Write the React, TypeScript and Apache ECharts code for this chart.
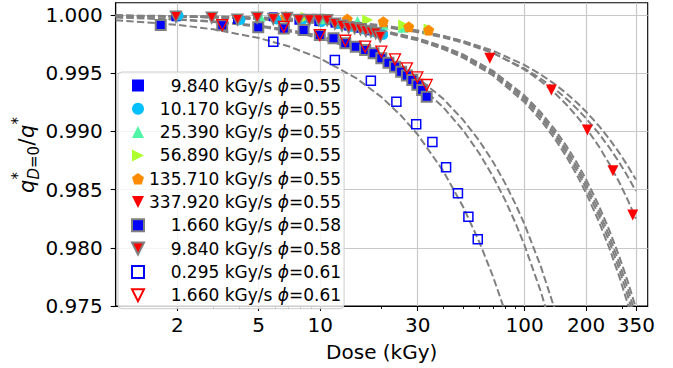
import React, { useEffect, useRef } from 'react';
import * as echarts from 'echarts';

const FONT = 'DejaVu Sans';

// ---- axis ticks ----
const X_MIN = 1;
const X_MAX = 400;
const X_MAJOR_TICKS = [2, 5, 10, 30, 100, 200, 350];
const X_MINOR_TICKS = [3, 4, 6, 7, 8, 9, 20, 40, 50, 60, 70, 80, 90, 300];
const Y_TICKS = [0.975, 0.98, 0.985, 0.99, 0.995, 1.0];
const Y_MIN = 0.975;
const Y_MAX = 1.00106;

// ---- measured series ----
const DOSE_A = [1.97, 3.94, 5.9, 7.87, 9.84, 11.81, 13.78, 15.74, 17.71, 19.68];
const VAL_A = [0.99985, 0.99962, 0.99985, 0.99955, 0.99943, 0.9993, 0.99905, 0.99886, 0.99865, 0.99843];

const DOSE_B = [2.03, 4.07, 6.1, 8.14, 10.17, 12.2, 14.24, 16.27, 18.31, 20.34];
const VAL_B = [0.99995, 0.99957, 0.99962, 0.9995, 0.9994, 0.99922, 0.999, 0.99877, 0.99855, 0.9983];

const DOSE_C = [5.08, 10.16, 15.23, 20.31, 25.39];
const VAL_C = [0.9999, 0.99968, 0.99945, 0.9992, 0.99894];

const DOSE_D = [8.53, 17.07, 25.6, 34.13];
const VAL_D = [0.9998, 0.99957, 0.99914, 0.9988];

const DOSE_E = [6.79, 13.57, 20.36, 27.14, 33.93];
const VAL_E = [0.99985, 0.99966, 0.99943, 0.999, 0.99871];

const DOSE_F = [67.58, 135.17, 202.75, 270.34, 337.92];
const VAL_F = [0.99628, 0.99356, 0.99012, 0.98662, 0.98282];

const DOSE_G = [1.66, 3.32, 4.98, 6.64, 8.3, 9.96, 11.62, 13.28, 14.94, 16.6, 18.26, 19.92, 21.58, 23.24, 24.9, 26.56, 28.22, 29.88, 31.54, 33.2];
const VAL_G = [0.99914, 0.99912, 0.99895, 0.99885, 0.99871, 0.99828, 0.998, 0.99757, 0.99728, 0.997, 0.99671, 0.99628, 0.9959, 0.99555, 0.99513, 0.9948, 0.99442, 0.994, 0.99355, 0.99298];

const DOSE_H = [0.98, 1.97, 2.95, 3.94, 4.92, 5.9, 6.89, 7.87, 8.86, 9.84, 10.82, 11.81, 12.79, 13.78, 14.76, 15.74, 16.73, 17.71, 18.7, 19.68];
const VAL_H = [0.99995, 0.99985, 0.99977, 0.9996, 0.99977, 0.99966, 0.99975, 0.99957, 0.99957, 0.99957, 0.99955, 0.99925, 0.99908, 0.99891, 0.99886, 0.99878, 0.99863, 0.99855, 0.99843, 0.99814];

const DOSE_I = [5.9, 11.8, 17.7, 23.6, 29.5, 35.4, 41.3, 47.2, 53.1, 59.0];
const VAL_I = [0.99771, 0.99613, 0.99436, 0.99255, 0.99061, 0.98909, 0.98692, 0.98468, 0.98267, 0.98073];

const DOSE_J = [3.32, 6.64, 9.96, 13.28, 16.6, 19.92, 23.24, 26.56, 29.88, 33.2];
const VAL_J = [0.99914, 0.99899, 0.99828, 0.99779, 0.99728, 0.99685, 0.99619, 0.99542, 0.99465, 0.99399];

// ---- fitted (dashed) curves ----
const FIT_DOSE_S = [1, 2, 3, 5, 7, 10, 15, 20, 25, 30, 40, 50, 60, 70, 80];
const FIT_S = [0.99956, 0.99916, 0.99877, 0.99803, 0.99732, 0.99627, 0.99458, 0.99293, 0.99132, 0.98973, 0.9866, 0.98353, 0.98052, 0.97755, 0.97459];

const FIT_DOSE_M = [1, 2, 3, 5, 7, 10, 15, 20, 30, 40, 50, 60, 70, 80, 90, 100, 120, 140];
const FIT_M1 = [0.9998, 0.9996, 0.99941, 0.99901, 0.99861, 0.99802, 0.99703, 0.99604, 0.99406, 0.99208, 0.9901, 0.98812, 0.98614, 0.98416, 0.98218, 0.9802, 0.97624, 0.97228];
const FIT_M2 = [0.99982, 0.99964, 0.99946, 0.9991, 0.99874, 0.9982, 0.9973, 0.9964, 0.9946, 0.9928, 0.991, 0.9892, 0.9874, 0.9856, 0.9838, 0.982, 0.9784, 0.9748];

const FIT_DOSE = [1, 2, 3, 5, 7, 10, 15, 20, 30, 40, 50, 70, 100, 120, 140, 160, 180, 200, 230, 260, 290, 320, 350];
const FIT_L1 = [0.99993, 0.99987, 0.9998, 0.99966, 0.99952, 0.9993, 0.99894, 0.99857, 0.99783, 0.99708, 0.99633, 0.99481, 0.9925, 0.99096, 0.9894, 0.98784, 0.98627, 0.98469, 0.98232, 0.97994, 0.97756, 0.97516, 0.97276];
const FIT_L2 = [0.99994, 0.99987, 0.9998, 0.99967, 0.99953, 0.99932, 0.99897, 0.99861, 0.99789, 0.99716, 0.99643, 0.99495, 0.99271, 0.99121, 0.98969, 0.98817, 0.98665, 0.98512, 0.98282, 0.9805, 0.97818, 0.97585, 0.97352];
const FIT_L3 = [0.99994, 0.99987, 0.99981, 0.99968, 0.99954, 0.99934, 0.99899, 0.99865, 0.99794, 0.99723, 0.99652, 0.99508, 0.99289, 0.99142, 0.98994, 0.98846, 0.98697, 0.98548, 0.98323, 0.98098, 0.97871, 0.97644, 0.97416];
const FIT_L4 = [0.99994, 0.99988, 0.99981, 0.99968, 0.99955, 0.99935, 0.99902, 0.99868, 0.998, 0.99731, 0.99661, 0.99521, 0.99308, 0.99165, 0.99021, 0.98877, 0.98732, 0.98587, 0.98368, 0.98148, 0.97928, 0.97707, 0.97485];
const FIT_U1 = [0.99995, 0.9999, 0.99985, 0.99975, 0.99966, 0.99952, 0.99929, 0.99907, 0.99863, 0.9982, 0.99777, 0.99694, 0.9957, 0.99489, 0.99408, 0.99328, 0.99248, 0.99169, 0.99051, 0.98934, 0.98818, 0.98702, 0.98587];
const FIT_U2 = [0.99994, 0.99989, 0.99984, 0.99973, 0.99963, 0.99948, 0.99924, 0.999, 0.99853, 0.99807, 0.99762, 0.99672, 0.9954, 0.99453, 0.99367, 0.99281, 0.99196, 0.99111, 0.98985, 0.9886, 0.98735, 0.98611, 0.98488];
const FIT_T = [0.99996, 0.99992, 0.99988, 0.9998, 0.99971, 0.99958, 0.99936, 0.99913, 0.99867, 0.99821, 0.99773, 0.99677, 0.99531, 0.99432, 0.99332, 0.99231, 0.9913, 0.99029, 0.98875, 0.9872, 0.98565, 0.98409, 0.98251];

// ---- legend ----
const RATES = ['9.840', '10.170', '25.390', '56.890', '135.710', '337.920', '1.660', '9.840', '0.295', '1.660'];
const PHIS = ['0.55', '0.55', '0.55', '0.55', '0.55', '0.55', '0.58', '0.58', '0.61', '0.61'];
const NAMES = RATES.map((r, i) => `${r} kGy/s \u03d5=${PHIS[i]}`);

const PENTAGON = 'path://M0,-1L0.951,-0.309L0.588,0.809L-0.588,0.809L-0.951,-0.309Z';
const TRI_DOWN = 'path://M-1,-1L1,-1L0,1Z';
const TRI_RIGHT = 'path://M-1,-1L1,0L-1,1Z';
const GRAY = '#808080';

const pairs = (xs: number[], ys: number[]) => xs.map((x, i) => [x, ys[i]]);

export default function App() {
  const ref = useRef<HTMLDivElement>(null);
  useEffect(() => {
    const chart = echarts.init(ref.current!, null, { renderer: 'svg' });
    const lx = (v: number) => Math.log10(v);

    const markerDefs: any[] = [
      { d: DOSE_A, v: VAL_A, symbol: 'rect', size: 9, style: { color: '#0000ff' } },
      { d: DOSE_B, v: VAL_B, symbol: 'circle', size: 10, style: { color: '#00bfff' } },
      { d: DOSE_C, v: VAL_C, symbol: 'triangle', size: 11, style: { color: '#50f5a5' } },
      { d: DOSE_D, v: VAL_D, symbol: TRI_RIGHT, size: 11, style: { color: '#adff2f' } },
      { d: DOSE_E, v: VAL_E, symbol: PENTAGON, size: 11, style: { color: '#ff8c00' } },
      { d: DOSE_F, v: VAL_F, symbol: TRI_DOWN, size: 11, style: { color: '#ff0000' } },
      { d: DOSE_G, v: VAL_G, symbol: 'rect', size: 10, style: { color: '#0000ff', borderColor: GRAY, borderWidth: 2 } },
      { d: DOSE_H, v: VAL_H, symbol: TRI_DOWN, size: 11, style: { color: '#ff0000', borderColor: GRAY, borderWidth: 1.5 } },
      { d: DOSE_I, v: VAL_I, symbol: 'rect', size: 9, style: { color: 'rgba(255,255,255,0)', borderColor: '#0000ff', borderWidth: 1.5 } },
      { d: DOSE_J, v: VAL_J, symbol: TRI_DOWN, size: 11, style: { color: 'rgba(255,255,255,0)', borderColor: '#ff0000', borderWidth: 1.3 } },
    ];

    const fits: [number[], number[]][] = [
      [FIT_DOSE_S, FIT_S], [FIT_DOSE_M, FIT_M1], [FIT_DOSE_M, FIT_M2],
      [FIT_DOSE, FIT_L1], [FIT_DOSE, FIT_L2], [FIT_DOSE, FIT_L3], [FIT_DOSE, FIT_L4],
      [FIT_DOSE, FIT_U1], [FIT_DOSE, FIT_U2], [FIT_DOSE, FIT_T],
    ];

    const lineSeries = fits.map(([xs, ys], i) => ({
      name: 'fit' + i,
      type: 'line',
      xAxisIndex: 0,
      yAxisIndex: 0,
      data: pairs(xs, ys),
      showSymbol: false,
      symbol: 'none',
      silent: true,
      clip: true,
      z: 2,
      lineStyle: { color: GRAY, width: 2, type: [7.4, 3.2] },
    }));

    const scatterSeries = markerDefs.map((m, i) => ({
      name: NAMES[i],
      type: 'scatter',
      xAxisIndex: 0,
      yAxisIndex: 0,
      data: pairs(m.d, m.v),
      symbol: m.symbol,
      symbolSize: m.size,
      itemStyle: { opacity: 1, ...m.style },
      z: 3,
      clip: true,
    }));

    const textBase = { fontFamily: FONT, color: '#000' };

    const option: any = {
      animation: false,
      backgroundColor: '#ffffff',
      grid: {
        left: 115.7, right: 25.3, top: 2.7, bottom: 62,
        show: true, borderColor: '#000', borderWidth: 1.1, backgroundColor: 'transparent',
        containLabel: false, outerBoundsMode: 'none',
      },
      xAxis: [
        { type: 'log', logBase: 10, min: X_MIN, max: X_MAX, show: false },
        {
          type: 'value', min: lx(X_MIN), max: lx(X_MAX), position: 'bottom',
          axisLine: { show: true, onZero: false, lineStyle: { color: '#000', width: 1.1 } },
          axisTick: { show: true, length: 5, customValues: X_MAJOR_TICKS.map(lx), lineStyle: { color: '#000', width: 1.1 } },
          axisLabel: {
            customValues: X_MAJOR_TICKS.map(lx),
            formatter: (v: number) => String(Math.round(Math.pow(10, v))),
            fontSize: 20, margin: 9, ...textBase,
          },
          splitLine: { show: true, lineStyle: { color: '#c8c8c8', width: 1.2 } },
          name: 'Dose (kGy)', nameLocation: 'middle', nameGap: 36,
          nameTextStyle: { fontSize: 20, ...textBase },
        },
        {
          type: 'value', min: lx(X_MIN), max: lx(X_MAX), position: 'bottom',
          axisLine: { show: false },
          axisTick: { show: true, length: 3, customValues: X_MINOR_TICKS.map(lx), lineStyle: { color: '#000', width: 0.9 } },
          axisLabel: { show: false },
          splitLine: { show: false },
        },
      ],
      yAxis: {
        type: 'value', min: Y_MIN, max: Y_MAX,
        axisLine: { show: true, lineStyle: { color: '#000', width: 1.1 } },
        axisTick: { show: true, length: 5, customValues: Y_TICKS, lineStyle: { color: '#000', width: 1.1 } },
        axisLabel: {
          customValues: Y_TICKS,
          formatter: (v: number) => v.toFixed(3),
          fontSize: 20, margin: 13, ...textBase,
        },
        splitLine: { show: true, lineStyle: { color: '#c8c8c8', width: 1.2 } },
      },
      legend: {
        data: NAMES,
        orient: 'vertical',
        left: 118, top: 72,
        itemWidth: 12, itemHeight: 12, itemGap: 6.3,
        padding: [5, 3, 5, 13],
        backgroundColor: 'rgba(255,255,255,0.8)',
        borderColor: '#cccccc', borderWidth: 1, borderRadius: 4,
        selectedMode: false,
        formatter: (name: string) => {
          const parts = name.split(' kGy/s \u03d5=');
          const pad = '\u2007'.repeat(Math.max(0, 7 - parts[0].length));
          return `{a|${pad}${parts[0]} kGy/s }{p|\u03d5}{a|=${parts[1]}}`;
        },
        textStyle: {
          ...textBase, fontSize: 17,
          rich: {
            a: { fontSize: 17, fontFamily: FONT, color: '#000', lineHeight: 16 },
            p: { fontSize: 17, fontFamily: FONT, color: '#000', fontStyle: 'italic', lineHeight: 16 },
          },
        },
      },
      graphic: [
        {
          type: 'group', x: 27, y: 155, rotation: Math.PI / 2, silent: true,
          children: [
            { type: 'text', x: -38, y: 0, style: { text: 'q', fontSize: 21, fontStyle: 'italic', fontFamily: FONT, fill: '#000', align: 'left', verticalAlign: 'middle' } },
            { type: 'text', x: -24.5, y: -9, style: { text: '*', fontSize: 15, fontFamily: FONT, fill: '#000', align: 'left', verticalAlign: 'middle' } },
            { type: 'text', x: -24.5, y: 7, style: { text: '{i|D}=0', fontSize: 15, fontFamily: FONT, fill: '#000', align: 'left', verticalAlign: 'middle', rich: { i: { fontSize: 15, fontStyle: 'italic', fontFamily: FONT, fill: '#000' } } } },
            { type: 'text', x: 9.5, y: 0, style: { text: '/', fontSize: 21, fontFamily: FONT, fill: '#000', align: 'left', verticalAlign: 'middle' } },
            { type: 'text', x: 17, y: 0, style: { text: 'q', fontSize: 21, fontStyle: 'italic', fontFamily: FONT, fill: '#000', align: 'left', verticalAlign: 'middle' } },
            { type: 'text', x: 30.5, y: -9, style: { text: '*', fontSize: 15, fontFamily: FONT, fill: '#000', align: 'left', verticalAlign: 'middle' } },
          ],
        },
      ],
      series: [...lineSeries, ...scatterSeries],
    };
    chart.setOption(option);
    return () => chart.dispose();
  }, []);
  return (
    <div
      ref={ref}
      style={{ position: 'fixed', left: 0, top: 0, width: 673, height: 368, background: '#fff' }}
    />
  );
}
